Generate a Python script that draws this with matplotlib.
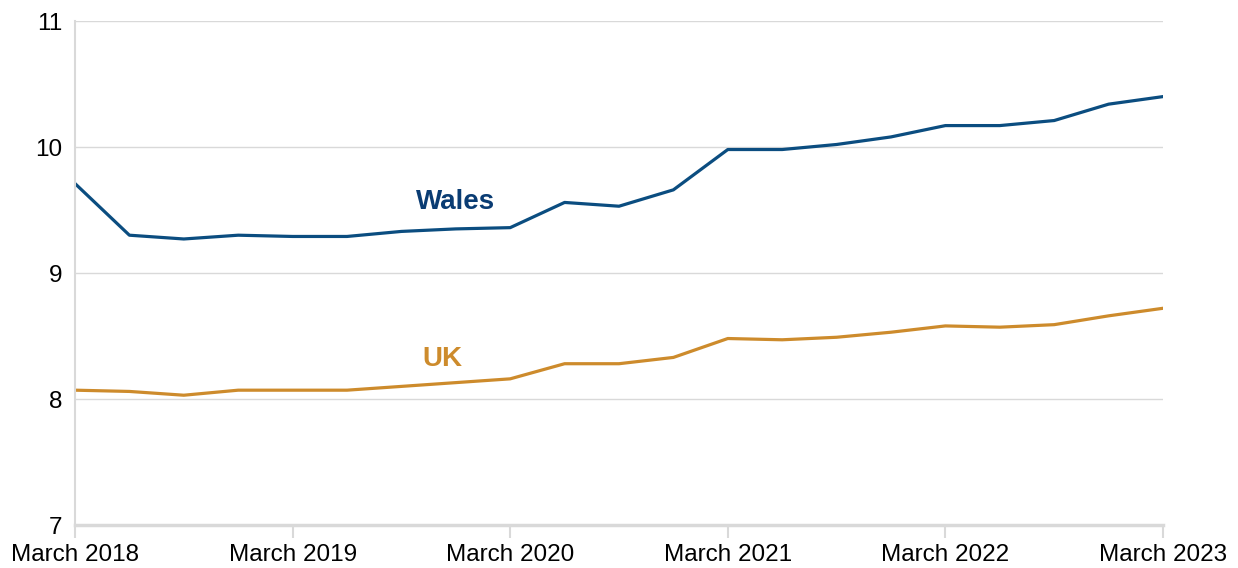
import numpy as np
import matplotlib.pyplot as plt

# quarterly values, March 2018 .. March 2023
wales = [9.71, 9.30, 9.27, 9.30, 9.29, 9.29, 9.33, 9.35, 9.36, 9.56, 9.53,
         9.66, 9.98, 9.98, 10.02, 10.08, 10.17, 10.17, 10.21, 10.34, 10.40]
uk = [8.07, 8.06, 8.03, 8.07, 8.07, 8.07, 8.10, 8.13, 8.16, 8.28, 8.28,
      8.33, 8.48, 8.47, 8.49, 8.53, 8.58, 8.57, 8.59, 8.66, 8.72]
tick_labels = ["March 2018", "March 2019", "March 2020", "March 2021",
               "March 2022", "March 2023"]

wales_color = "#0B4D80"
uk_color = "#CD8B2C"
grid_color = "#D9D9D9"

plt.rcParams["font.family"] = ["Liberation Sans", "DejaVu Sans"]

fig = plt.figure(figsize=(12.38, 5.68), dpi=100)
ax = fig.add_axes([75 / 1238, 1 - 525 / 568, (1163 - 75) / 1238, (525 - 21) / 568])

x = np.arange(len(wales))
ax.plot(x, wales, color=wales_color, lw=2.3)
ax.plot(x, uk, color=uk_color, lw=2.3)

ax.set_xlim(0, len(wales) - 1)
ax.set_ylim(7, 11)
ax.set_yticks([7, 8, 9, 10, 11])
ax.set_xticks(np.arange(0, len(wales), 4))
ax.set_xticklabels(tick_labels)

ax.grid(axis="y", color=grid_color, lw=1)
ax.set_axisbelow(True)
for s in ["top", "right"]:
    ax.spines[s].set_visible(False)
ax.spines["left"].set_color(grid_color)
ax.spines["left"].set_linewidth(1.5)
ax.spines["bottom"].set_color(grid_color)
ax.spines["bottom"].set_linewidth(2.5)

ax.tick_params(axis="y", length=0, pad=9, labelsize=17.5)
ax.tick_params(axis="x", length=9, width=1.5, color=grid_color, pad=5, labelsize=17.5)

ax.text(7, 9.56, "Wales", color="#0A3C73", fontsize=20, fontweight="bold", ha="center", va="center")
ax.text(6.75, 8.32, "UK", color=uk_color, fontsize=20, fontweight="bold", ha="center", va="center")

fig.savefig("out.png", dpi=100)
